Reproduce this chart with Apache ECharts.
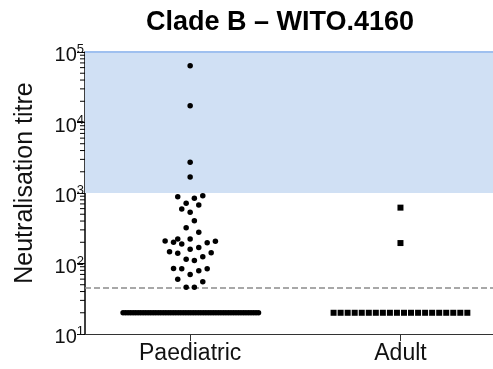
<!DOCTYPE html>
<html><head><meta charset="utf-8">
<script src="https://cdn.jsdelivr.net/npm/echarts@6/dist/echarts.min.js"></script>
<style>html,body{margin:0;padding:0;background:#fff}#c{width:493px;height:369px}</style>
</head><body><div id="c"></div>
<script>
// ---- data ----
const categories = ['Paediatric', 'Adult'];
const titleText = 'Clade B – WITO.4160';
const yAxisName = 'Neutralisation titre';
const yMinorTicks = [20,30,40,50,60,70,80,90,200,300,400,500,600,700,800,900,
  2000,3000,4000,5000,6000,7000,8000,9000,20000,30000,40000,50000,60000,70000,80000,90000];
const thresholdValue = 45;
const shadedRange = [1000, 100000];

// Paediatric values above the detection floor, with beeswarm offsets (category units)
const paedValues = [64000, 17300, 2730, 1690,
  886, 841, 915, 714, 676, 593, 533, 405, 322, 277,
  208, 200, 223, 189, 223, 197, 206,
  147, 140, 159, 168, 142, 125, 115, 110,
  85, 84, 79, 84, 70, 60, 55, 46, 46];
const paedOffsets = [0, 0, 0, 0,
  -0.059, 0.020, 0.060, -0.019, 0.041, -0.040, 0, 0.020, -0.019, 0.041,
  -0.119, -0.079, -0.059, -0.040, 0, 0.081, 0.120,
  -0.098, -0.059, 0, 0.041, 0.100, 0.060, -0.019, 0.020,
  -0.079, -0.040, 0.041, 0.081, 0, -0.059, 0.060, -0.019, 0.020];
// Paediatric values at the floor
const paedFloor = [20,20,20,20,20,20,20,20,20,20,20,20,20,20,20,20,20,20,20,20,
  20,20,20,20,20,20,20,20,20,20,20,20,20,20,20,20,20,20,20,20,
  20,20,20,20,20,20,20,20,20,20,20,20,20,20,20];
// Adult
const adultValues = [620, 195];
const adultOffsets = [0, 0];
const adultFloor = [20,20,20,20,20,20,20,20,20,20,20,20,20,20,20,20,20,20,20,20];

// ---- build ----
const FONT = "'Liberation Sans', Arial, sans-serif";
function spread(vals, center, halfWidth) {
  const n = vals.length;
  return vals.map((v, i) => [center + (n > 1 ? (-halfWidth + 2 * halfWidth * i / (n - 1)) : 0), v]);
}
const paedData = paedValues.map((v, i) => [1 + paedOffsets[i], v]).concat(spread(paedFloor, 1.003, 0.322));
const adultData = adultValues.map((v, i) => [2 + adultOffsets[i], v]).concat(spread(adultFloor, 2, 0.318));

const X_MIN = 0.5, X_MAX = 2.44;
const chart = echarts.init(document.getElementById('c'), null, {renderer: 'canvas'});
chart.setOption({
  animation: false,
  backgroundColor: '#fff',
  textStyle: {fontFamily: FONT},
  grid: {left: 85, right: 0, top: 52, bottom: 35, containLabel: false},
  graphic: [
    {type: 'text', x: 280, y: 23, style: {text: titleText, font: "bold 27px " + FONT, fill: '#000', align: 'center', verticalAlign: 'middle'}},
    {type: 'text', x: 25, y: 183, rotation: Math.PI / 2, style: {text: yAxisName, font: "25px " + FONT, fill: '#111', align: 'center', verticalAlign: 'middle'}}
  ],
  xAxis: {
    type: 'value', min: X_MIN, max: X_MAX,
    splitLine: {show: false},
    axisLine: {show: true, onZero: false, lineStyle: {color: '#333', width: 1}},
    axisTick: {show: true, length: 7, customValues: [1, 2], lineStyle: {color: '#333', width: 1}},
    axisLabel: {customValues: [1, 2], margin: 8, fontSize: 23, color: '#111', fontFamily: FONT,
      formatter: v => categories[Math.round(v) - 1] || ''}
  },
  yAxis: {
    type: 'log', logBase: 10, min: 10, max: 100000,
    splitLine: {show: false},
    axisLine: {show: true, lineStyle: {color: '#000', width: 1.5}},
    axisTick: {show: true, length: 8, lineStyle: {color: '#000', width: 1}},
    axisLabel: {
      margin: 1, color: '#111', padding: [7, 0, 0, 0],
      formatter: v => '{b|10}{s|' + Math.round(Math.log10(v)) + '}',
      rich: {
        b: {fontSize: 20, fontFamily: FONT, color: '#111'},
        s: {fontSize: 13, fontFamily: FONT, color: '#111', padding: [0, 0, 12, 0]}
      }
    }
  },
  series: [
    {
      type: 'scatter', name: 'area', data: [], silent: true, z: 1,
      markArea: {silent: true, itemStyle: {color: '#d0e0f4'}, data: [[{yAxis: shadedRange[0]}, {yAxis: shadedRange[1]}]]},
      markLine: {silent: true, symbol: 'none', label: {show: false},
        data: [
          {yAxis: shadedRange[1], lineStyle: {color: '#9fc0ef', width: 2, type: 'solid'}},
          {yAxis: thresholdValue, lineStyle: {color: '#8c8c8c', width: 1.5, type: [6, 3]}}
        ]}
    },
    {
      type: 'custom', name: 'minorTicks', z: 5, clip: false, silent: true,
      data: yMinorTicks,
      renderItem: (params, api) => {
        const p = api.coord([X_MIN, api.value(0)]);
        return {type: 'line', shape: {x1: p[0] - 5, y1: p[1], x2: p[0], y2: p[1]}, style: {stroke: '#000', lineWidth: 1}};
      },
      encode: {y: 0}
    },
    {
      type: 'scatter', name: categories[0], data: paedData, symbol: 'circle', symbolSize: 5.5,
      itemStyle: {color: '#000', opacity: 1}, z: 10, silent: true
    },
    {
      type: 'scatter', name: categories[1], data: adultData, symbol: 'rect', symbolSize: 6,
      itemStyle: {color: '#000', opacity: 1}, z: 10, silent: true
    }
  ]
});
</script></body></html>
